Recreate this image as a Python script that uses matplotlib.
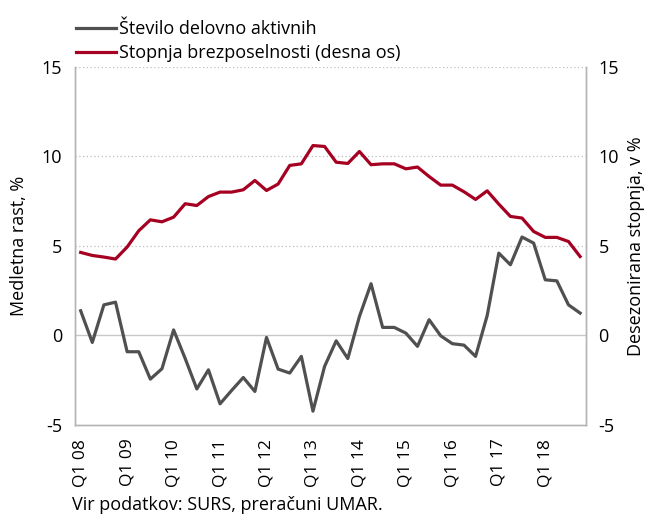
import matplotlib
matplotlib.use("Agg")
import matplotlib.pyplot as plt
import numpy as np

plt.rcParams['font.family'] = ['Open Sans', 'DejaVu Sans']
plt.rcParams['axes.unicode_minus'] = False

# quarterly data Q1 2008 .. Q4 2018
years = list(range(2008, 2019))
tick_labels = ['Q1 %02d' % (y % 100) for y in years]

zaposleni = [1.37, -0.40, 1.70, 1.85, -0.92, -0.92, -2.45, -1.87, 0.30, -1.30,
             -3.00, -1.93, -3.83, -3.08, -2.36, -3.14, -0.12, -1.89, -2.11, -1.18,
             -4.24, -1.74, -0.31, -1.30, 1.05, 2.88, 0.44, 0.44, 0.12, -0.62,
             0.87, -0.03, -0.47, -0.55, -1.18, 1.10, 4.59, 3.94, 5.49, 5.15,
             3.10, 3.04, 1.70, 1.24]
brezposelnost = [4.63, 4.46, 4.37, 4.26, 4.93, 5.84, 6.45, 6.34, 6.60, 7.35,
                 7.25, 7.75, 8.00, 8.00, 8.13, 8.65, 8.09, 8.45, 9.49, 9.58,
                 10.60, 10.55, 9.67, 9.60, 10.27, 9.53, 9.58, 9.58, 9.30, 9.40,
                 8.87, 8.39, 8.39, 8.02, 7.59, 8.07, 7.33, 6.64, 6.55, 5.80,
                 5.47, 5.47, 5.24, 4.40]

x = np.arange(len(zaposleni))

fig = plt.figure(figsize=(6.51, 5.18), dpi=100)
ax = fig.add_axes([0.115, 0.18, 0.785, 0.691])
ax2 = ax.twinx()

gray = '#505050'
red = '#a50021'
frame = '#b4b4b4'

for yv in (5, 10, 15):
    ax.axhline(yv, color='#bdbdbd', lw=0.9, ls=(0, (1, 2)), zorder=0)
ax.axhline(0, color='#c8c8c8', lw=1.0, zorder=0)

l1, = ax.plot(x, zaposleni, color=gray, lw=2.3, label='Število delovno aktivnih')
l2, = ax2.plot(x, brezposelnost, color=red, lw=2.3, label='Stopnja brezposelnosti (desna os)')

for a in (ax, ax2):
    a.set_ylim(-5, 15)
    a.set_yticks([-5, 0, 5, 10, 15])
    a.set_xlim(-0.5, len(x) - 0.5)
    for s in a.spines.values():
        s.set_color(frame)
        s.set_linewidth(1.0)
    a.tick_params(axis='y', length=0, labelsize=13, pad=9, colors='black')
ax.spines['top'].set_visible(False)
ax2.spines['top'].set_visible(False)

ax.set_xticks(x[::4])
ax.set_xticklabels(tick_labels, rotation=90, fontsize=12.5)
ax.tick_params(axis='x', length=0, pad=10)

ax.set_ylabel('Medletna rast, %', fontsize=13, labelpad=10)
ax2.set_ylabel('Desezonirana stopnja, v %', fontsize=13, labelpad=6)

fig.legend(handles=[l1, l2], loc='upper left', bbox_to_anchor=(0.098, 0.985),
           frameon=False, fontsize=13, handlelength=2.2, handletextpad=0.15,
           labelspacing=0.3, borderaxespad=0.3)

fig.text(0.111, 0.016, 'Vir podatkov: SURS, preračuni UMAR.', fontsize=13)

fig.savefig('out.png', dpi=100)
